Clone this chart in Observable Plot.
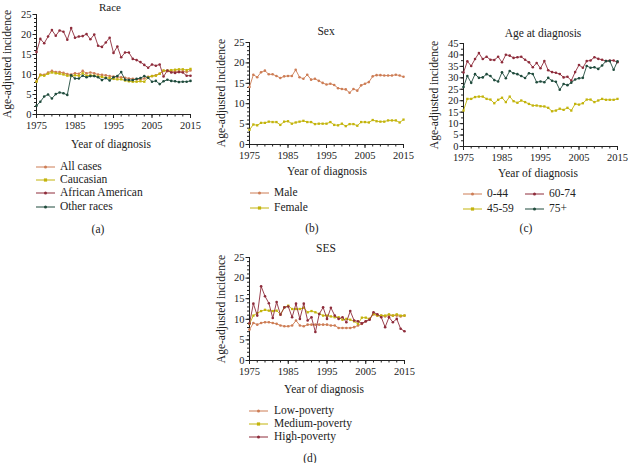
<!DOCTYPE html>
<html>
<head>
<meta charset="utf-8">
<script src="https://cdn.jsdelivr.net/npm/d3@7"></script>
<script src="https://cdn.jsdelivr.net/npm/@observablehq/plot@0.6"></script>
<style>
  html, body { margin: 0; padding: 0; background: #fff; }
  #root { position: relative; width: 628px; height: 463px; overflow: hidden; font-family: "Liberation Serif", "DejaVu Serif", serif; color: #222; }
  .t { position: absolute; white-space: nowrap; font-size: 11px; line-height: 1; }
  .c { transform: translate(-50%, -50%); }
  .l { transform: translate(0, -50%); }
  .r { transform: translate(-50%, -50%) rotate(-90deg); }
  .plot { position: absolute; }
  .leg { position: absolute; }
</style>
</head>
<body>
<div id="root"></div>
<script>
// ---------- data ----------
const years = [1975,1976,1977,1978,1979,1980,1981,1982,1983,1984,1985,1986,1987,1988,1989,1990,1991,1992,1993,1994,1995,1996,1997,1998,1999,2000,2001,2002,2003,2004,2005,2006,2007,2008,2009,2010,2011,2012,2013,2014,2015];
const xTicks = [1975, 1985, 1995, 2005, 2015];
const yTicks25 = [0, 5, 10, 15, 20, 25];
const yTicks45 = [0, 5, 10, 15, 20, 25, 30, 35, 40, 45];

// (a) Race
const allCases = [8.3,10.0,9.9,10.5,10.9,10.6,10.6,10.4,10.1,10.0,10.3,10.2,10.9,10.3,10.5,10.3,10.0,9.9,9.8,9.6,9.5,9.4,9.3,9.2,9.0,8.9,8.8,8.8,9.0,9.4,9.6,9.8,10.2,10.9,10.8,10.8,10.8,10.8,10.8,10.6,11.0];
const caucasian = [8.2,9.8,9.7,10.2,10.5,10.3,10.2,10.0,9.7,9.6,9.8,9.7,10.3,9.7,9.8,9.7,9.5,9.4,9.2,9.1,8.9,8.8,8.8,8.5,8.3,8.2,8.2,8.3,8.2,9.3,9.6,9.7,10.2,11.0,11.0,11.1,11.2,11.3,11.3,11.1,11.4];
const africanAmerican = [15.6,18.9,17.8,19.5,21.1,19.7,21.0,20.7,18.7,21.6,19.2,19.5,19.6,20.1,18.8,20.0,17.2,16.9,18.0,19.2,15.4,17.0,14.3,15.5,15.5,13.9,13.6,13.1,12.4,11.7,12.5,12.2,12.5,9.5,11.0,10.5,10.4,10.6,10.5,9.7,9.7];
const otherRaces = [2.2,3.2,4.5,5.0,4.0,5.1,5.5,5.3,4.9,9.8,9.0,9.0,9.7,9.3,9.6,9.6,9.3,8.6,9.1,8.5,9.3,9.6,10.6,8.7,8.6,8.6,8.9,9.1,9.6,9.2,8.2,8.4,7.6,8.3,8.7,8.4,8.3,8.1,8.2,8.2,8.4];

// (b) Sex
const male = [14.1,17.1,16.5,17.7,18.1,17.2,17.2,16.8,16.3,16.7,16.8,16.8,18.3,16.5,16.1,17.1,15.9,16.1,15.6,15.1,14.7,14.9,14.6,13.8,13.6,13.5,12.7,13.6,13.2,14.5,14.9,15.3,16.7,17.0,17.0,16.9,16.9,16.9,17.1,16.9,16.6];
const female = [3.6,4.9,4.7,5.3,5.3,5.6,5.5,5.5,4.8,5.6,5.7,5.1,5.4,5.6,5.8,5.5,5.5,5.0,5.1,5.1,5.1,5.5,4.8,4.7,5.1,4.5,5.0,5.0,4.6,5.5,5.5,5.4,6.0,5.7,5.6,5.6,5.9,5.9,5.9,5.4,6.1];

// (c) Age at diagnosis
const age4559 = [15.7,20.8,20.8,21.6,21.8,21.8,20.8,20.5,18.9,20.4,21.3,19.4,21.8,19.8,19.1,20.1,19.4,18.6,17.9,17.9,17.6,17.5,16.9,15.4,15.7,16.5,16.0,16.9,15.7,18.6,18.3,18.9,20.5,20.5,19.4,20.1,20.8,20.4,20.4,20.4,20.8];
const age6074 = [32.3,37.2,35.2,38.2,40.8,38.2,39.2,37.9,37.8,39.2,36.8,40.1,39.7,38.7,39.0,39.2,37.9,36.8,34.6,36.5,34.2,37.3,33.3,32.5,32.2,31.7,30.2,30.5,28.8,32.5,35.6,34.4,37.3,37.6,39.0,38.3,37.9,37.3,37.6,37.6,36.8];
const age75plus = [26.0,30.8,27.8,31.6,30.0,30.2,31.6,30.8,29.0,28.4,32.4,29.8,33.0,32.0,31.6,30.8,29.9,32.0,31.7,28.1,28.4,28.1,30.0,28.7,28.3,24.8,27.3,26.8,27.9,29.3,29.8,30.0,35.2,34.4,34.6,33.9,35.4,37.3,37.3,33.5,37.2];

// (d) SES
const lowPoverty = [7.5,9.1,8.7,9.1,9.3,9.3,9.1,8.9,8.5,8.3,8.3,8.5,9.7,8.5,8.3,8.7,8.7,8.7,8.7,8.7,8.7,8.5,8.5,7.9,7.9,7.9,7.9,8.1,8.5,8.9,9.5,10.1,11.2,10.9,10.9,10.7,10.9,10.9,10.9,10.7,10.9];
const mediumPoverty = [8.9,10.9,11.5,12.0,12.3,12.1,12.0,12.1,11.2,12.9,13.3,12.5,12.5,12.5,12.8,11.7,12.0,11.7,11.3,10.9,10.9,10.7,10.5,10.5,9.9,10.1,9.9,9.5,8.9,10.4,10.4,10.1,11.3,10.9,10.9,10.9,11.2,10.9,11.2,10.9,10.9];
const highPoverty = [9.0,13.8,10.9,18.0,15.6,13.9,10.3,14.2,11.1,12.9,13.1,10.5,13.8,10.1,13.8,9.7,10.5,6.9,11.3,12.9,10.1,12.8,10.9,10.1,10.5,9.3,12.0,9.7,9.5,9.0,9.5,9.9,11.7,11.2,10.5,8.1,10.5,9.3,10.1,7.7,7.1];

// ---------- styling ----------
const COL = {
  orange: "#cd7d55",
  yellow: "#c3b40c",
  red: "#8e2c3b",
  green: "#1f4b3c"
};
const FONT = "'Liberation Serif', 'DejaVu Serif', serif";
const root = document.getElementById("root");

function addText(txt, x, y, cls, size) {
  const d = document.createElement("div");
  d.className = "t " + cls;
  d.style.left = x + "px";
  d.style.top = y + "px";
  if (size) d.style.fontSize = size + "px";
  d.textContent = txt;
  root.appendChild(d);
}

function table(vals) {
  return vals.map((v, i) => ({year: years[i], value: v}));
}

function panel(cfg) {
  const marks = [];
  const minorX = years.filter(y => y % 2 === 1);
  marks.push(Plot.axisX({ticks: minorX, tickSize: 2.5, tickFormat: () => "", label: null}));
  marks.push(Plot.axisX({ticks: xTicks, tickSize: 4, tickPadding: 3, tickFormat: d => String(d), label: null}));
  marks.push(Plot.axisY({ticks: cfg.yMinor, tickSize: 2, tickFormat: () => "", label: null}));
  marks.push(Plot.axisY({ticks: cfg.yTicks, tickSize: 3.5, tickPadding: 1.5, tickFormat: d => String(d), label: null}));
  marks.push(Plot.ruleY([cfg.yDomain[0]], {stroke: "#222", strokeWidth: 1}));
  marks.push(Plot.ruleX([1975], {stroke: "#222", strokeWidth: 1}));
  for (const s of cfg.series) {
    const t = table(s.values);
    marks.push(Plot.line(t, {x: "year", y: "value", stroke: s.color, strokeWidth: 0.9}));
    marks.push(Plot.dot(t, {x: "year", y: "value", r: 1.3, fill: s.color, stroke: "none", symbol: s.symbol || "circle"}));
  }
  const svg = Plot.plot({
    width: cfg.width,
    height: cfg.height,
    marginLeft: cfg.ml, marginRight: cfg.mr, marginTop: cfg.mt, marginBottom: cfg.mb,
    x: {domain: [1975, 2015], label: null},
    y: {domain: cfg.yDomain, label: null},
    style: {fontFamily: FONT, fontSize: "10.5px", color: "#222", background: "transparent", overflow: "visible"},
    marks
  });
  svg.classList.add("plot");
  svg.style.left = cfg.left + "px";
  svg.style.top = cfg.top + "px";
  root.appendChild(svg);
}

function legendItem(name, color, symbol, x, y, textX) {
  const w = 19;
  const ns = "http://www.w3.org/2000/svg";
  const svg = document.createElementNS(ns, "svg");
  svg.setAttribute("width", w);
  svg.setAttribute("height", 6);
  svg.setAttribute("class", "leg");
  svg.style.left = x + "px";
  svg.style.top = (y - 3) + "px";
  const line = document.createElementNS(ns, "line");
  line.setAttribute("x1", 0); line.setAttribute("x2", w);
  line.setAttribute("y1", 3); line.setAttribute("y2", 3);
  line.setAttribute("stroke", color); line.setAttribute("stroke-width", 1);
  svg.appendChild(line);
  let m;
  if (symbol === "square") {
    m = document.createElementNS(ns, "rect");
    m.setAttribute("x", w / 2 - 1.6); m.setAttribute("y", 1.4);
    m.setAttribute("width", 3.2); m.setAttribute("height", 3.2);
  } else {
    m = document.createElementNS(ns, "circle");
    m.setAttribute("cx", w / 2); m.setAttribute("cy", 3); m.setAttribute("r", 1.5);
  }
  m.setAttribute("fill", color);
  svg.appendChild(m);
  root.appendChild(svg);
  addText(name, textX, y, "l", 11.5);
}

// ---------- panel (a) ----------
panel({left: 0, top: 0, width: 200, height: 135, ml: 36, mr: 10, mt: 14, mb: 21,
  yDomain: [0, 25], yTicks: yTicks25, yMinor: d3.range(0, 26, 1),
  series: [
    {values: allCases, color: COL.orange},
    {values: caucasian, color: COL.yellow, symbol: "square"},
    {values: africanAmerican, color: COL.red},
    {values: otherRaces, color: COL.green}
  ]});
addText("Race", 110, 6.5, "c", 11);
addText("Age-adjusted incidence", 8, 64, "r", 11.5);
addText("Year of diagnosis", 111, 145, "c", 11.5);
legendItem("All cases", COL.orange, "circle", 36, 167, 60);
legendItem("Caucasian", COL.yellow, "square", 36, 180, 60);
legendItem("African American", COL.red, "circle", 36, 193, 60);
legendItem("Other races", COL.green, "circle", 36, 207, 60);
addText("(a)", 98, 230, "c", 11.5);

// ---------- panel (b) ----------
panel({left: 200, top: 28, width: 215, height: 137, ml: 49, mr: 12, mt: 14, mb: 21,
  yDomain: [0, 25], yTicks: yTicks25, yMinor: d3.range(0, 26, 1),
  series: [
    {values: male, color: COL.orange},
    {values: female, color: COL.yellow, symbol: "square"}
  ]});
addText("Sex", 326, 32, "c", 11.5);
addText("Age-adjusted incidence", 222, 93, "r", 11.5);
addText("Year of diagnosis", 327, 172, "c", 11.5);
legendItem("Male", COL.orange, "circle", 250, 193, 274);
legendItem("Female", COL.yellow, "square", 250, 208, 274);
addText("(b)", 312, 229, "c", 11.5);

// ---------- panel (c) ----------
panel({left: 410, top: 29, width: 218, height: 138, ml: 53, mr: 11, mt: 14, mb: 21,
  yDomain: [0, 45], yTicks: yTicks45, yMinor: d3.range(0, 45.1, 2.5),
  series: [
    {values: age4559, color: COL.yellow, symbol: "square"},
    {values: age6074, color: COL.red},
    {values: age75plus, color: COL.green}
  ]});
addText("Age at diagnosis", 543, 34, "c", 11.5);
addText("Age-adjusted incidence", 435, 95, "r", 11.5);
addText("Year of diagnosis", 538, 174, "c", 11.5);
legendItem("0-44", COL.orange, "circle", 463, 194, 487);
legendItem("60-74", COL.red, "circle", 525, 194, 549);
legendItem("45-59", COL.yellow, "square", 463, 209, 487);
legendItem("75+", COL.green, "circle", 525, 209, 549);
addText("(c)", 526, 229, "c", 11.5);

// ---------- panel (d) ----------
panel({left: 200, top: 243, width: 215, height: 138, ml: 49, mr: 11, mt: 14, mb: 21,
  yDomain: [0, 25], yTicks: yTicks25, yMinor: d3.range(0, 26, 1),
  series: [
    {values: lowPoverty, color: COL.orange},
    {values: mediumPoverty, color: COL.yellow, symbol: "square"},
    {values: highPoverty, color: COL.red}
  ]});
addText("SES", 326, 249, "c", 11.5);
addText("Age-adjusted incidence", 222, 309, "r", 11.5);
addText("Year of diagnosis", 324, 390, "c", 11.5);
legendItem("Low-poverty", COL.orange, "circle", 249, 411, 274);
legendItem("Medium-poverty", COL.yellow, "square", 249, 424, 274);
legendItem("High-poverty", COL.red, "circle", 249, 437, 274);
addText("(d)", 310, 459, "c", 11.5);
</script>
</body>
</html>
